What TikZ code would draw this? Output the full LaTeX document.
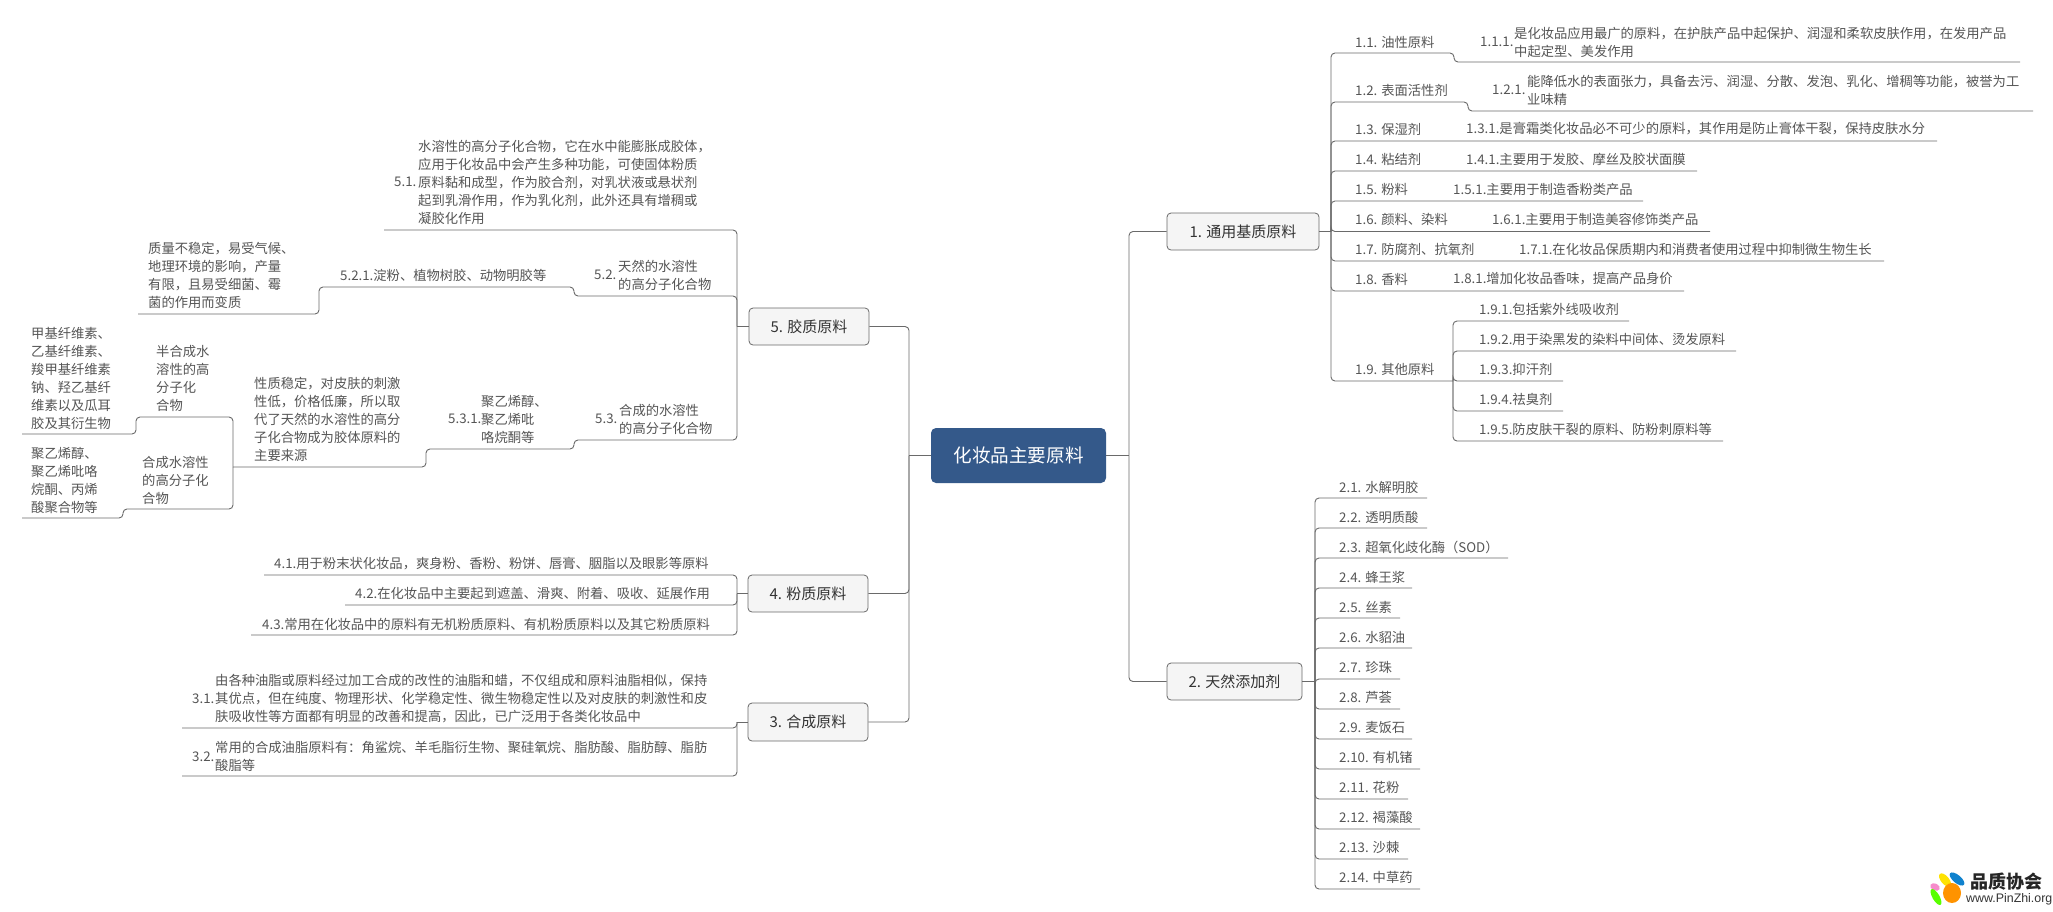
\documentclass[tikz,border=0pt]{standalone}
\usepackage{fontspec}
\setmainfont{Noto Sans CJK SC}
\newfontfamily\logofont{Liberation Sans}
\definecolor{txt}{HTML}{555555}
\definecolor{lnc}{HTML}{6A6A6A}
\definecolor{boxf}{HTML}{F5F5F5}
\definecolor{rootc}{HTML}{34598A}
\tikzset{
  conn/.style={draw=lnc,line width=0.9pt,rounded corners=4pt},
  stub/.style={draw=lnc,line width=0.9pt},
  lab/.style={inner sep=0pt,anchor=west,align=left,text=txt,font=\fontsize{13.3}{18}\selectfont},
  topbox/.style={draw=lnc,line width=0.8pt,fill=boxf,rounded corners=4pt,inner sep=0pt,text=black!80,font=\fontsize{15}{18}\selectfont},
  rootbox/.style={fill=rootc,rounded corners=5pt,inner sep=0pt,text=white,font=\fontsize{18.6}{22}\selectfont}
}
\begin{document}
\begin{tikzpicture}[x=1pt,y=-1pt]
\useasboundingbox[fill=white] (0,0) rectangle (2053,911);
% boxes
\node[rootbox,minimum width=175pt,minimum height=55pt] (root) at (1018.5,455.5) {化妆品主要原料};
\node[topbox,minimum width=152pt,minimum height=37pt] (b1) at (1243,231.5) {1. 通用基质原料};
\node[topbox,minimum width=135pt,minimum height=37pt] (b2) at (1234.5,681.5) {2. 天然添加剂};
\node[topbox,minimum width=120pt,minimum height=37pt] (b5) at (809,326.5) {5. 胶质原料};
\node[topbox,minimum width=120pt,minimum height=37pt] (b4) at (808,593.5) {4. 粉质原料};
\node[topbox,minimum width=120pt,minimum height=38pt] (b3) at (808,722) {3. 合成原料};
% junction points
\coordinate (jr) at (1129,455.5);
\coordinate (jl) at (909,455.5);
\coordinate (s1) at (1331,231.5);
\coordinate (s19) at (1453,381);
\coordinate (s2) at (1315,681.5);
\coordinate (s5) at (737,326.5);
\coordinate (s4) at (737,593.5);
\coordinate (s3) at (737,722);
\coordinate (s53) at (233,467);
% top-level connectors
\draw[stub] (root.east) -- (jr);
\draw[stub] (root.west) -- (jl);
\draw[conn] (jr) |- (b1.west);
\draw[conn] (jr) |- (b2.west);
\draw[conn] (jl) |- (b5.east);
\draw[conn] (jl) |- (b4.east);
\draw[conn] (jl) |- (b3.east);
\draw[stub] (b1.east) -- (s1);
\draw[stub] (b2.east) -- (s2);
\draw[stub] (b5.west) -- (s5);
\draw[stub] (b4.west) -- (s4);
\draw[stub] (b3.west) -- (s3);
% section 1 underline ends
\foreach \n/\x/\y in {c13/1937/141,c14/1697/171,c15/1643/201,c16/1710/231.5,c17/1884/261,c18/1684/291,c19/1453/381,
  d1/1629/321,d2/1736/351,d3/1563/381,d4/1563/411,d5/1723/441,
  e1/1427/498,e2/1427/528,e3/1508/558,e4/1412/588,e5/1400/618,e6/1412/648,e7/1400/679,e8/1400/709,e9/1412/739,e10/1420/769,e11/1408/799,e12/1420/829,e13/1408/859,e14/1420/889,
  f1/264/575,f2/345/605,f3/251/635,g1/182/728,g2/182/776,h1/384/230}
  {\coordinate (\n) at (\x,\y);}
\draw[conn] (s1) |- (1454,53) -- (1454,62) -- (2020,62);
\draw[conn] (s1) |- (1468,102) -- (1468,111) -- (2033,111);
\foreach \n in {c13,c14,c15,c16,c17,c18,c19} {\draw[conn] (s1) |- (\n);}
\foreach \n in {d1,d2,d3,d4,d5} {\draw[conn] (s19) |- (\n);}
\draw[stub] (c19) -- (s19);
\foreach \n in {e1,e2,e3,e4,e5,e6,e7,e8,e9,e10,e11,e12,e13,e14} {\draw[conn] (s2) |- (\n);}
\foreach \n in {f1,f2,f3} {\draw[conn] (s4) |- (\n);}
\foreach \n in {g1,g2} {\draw[conn] (s3) |- (\n);}
\draw[conn] (s5) |- (h1);
\draw[conn] (s5) |- (574,296) -- (574,287) -- (319,287) -- (319,314) -- (138,314);
\draw[conn] (s5) |- (574,440) -- (574,449) -- (426,449) -- (426,467) -- (s53);
\draw[conn] (s53) |- (136,417) -- (136,434) -- (22,434);
\draw[conn] (s53) |- (123,509) -- (123,518) -- (22,518);
% section 1 text
\node[lab] (t11) at (1355,42) {1.1. 油性原料};
\node[lab] (t111) at (1480,42) {1.1.1.};
\node[lab] (t111b) at (1514,42.5) {是化妆品应用最广的原料，在护肤产品中起保护、润湿和柔软皮肤作用，在发用产品\\中起定型、美发作用};
\node[lab] (t12) at (1355,90) {1.2. 表面活性剂};
\node[lab] (t121) at (1492,90) {1.2.1.};
\node[lab] (t121b) at (1527,90.5) {能降低水的表面张力，具备去污、润湿、分散、发泡、乳化、增稠等功能，被誉为工\\业味精};
\node[lab] (t13) at (1355,129) {1.3. 保湿剂};
\node[lab] (t131) at (1466,129) {1.3.1.是膏霜类化妆品必不可少的原料，其作用是防止膏体干裂，保持皮肤水分};
\node[lab] (t14) at (1355,159) {1.4. 粘结剂};
\node[lab] (t141) at (1466,159) {1.4.1.主要用于发胶、摩丝及胶状面膜};
\node[lab] (t15) at (1355,189) {1.5. 粉料};
\node[lab] (t151) at (1453,189) {1.5.1.主要用于制造香粉类产品};
\node[lab] (t16) at (1355,219) {1.6. 颜料、染料};
\node[lab] (t161) at (1492,219) {1.6.1.主要用于制造美容修饰类产品};
\node[lab] (t17) at (1355,249) {1.7. 防腐剂、抗氧剂};
\node[lab] (t171) at (1519,249) {1.7.1.在化妆品保质期内和消费者使用过程中抑制微生物生长};
\node[lab] (t18) at (1355,279) {1.8. 香料};
\node[lab] (t181) at (1453,279) {1.8.1.增加化妆品香味，提高产品身价};
\node[lab] (t19) at (1355,369) {1.9. 其他原料};
\node[lab] (t191) at (1479,309) {1.9.1.包括紫外线吸收剂};
\node[lab] (t192) at (1479,339) {1.9.2.用于染黑发的染料中间体、烫发原料};
\node[lab] (t193) at (1479,369) {1.9.3.抑汗剂};
\node[lab] (t194) at (1479,399) {1.9.4.祛臭剂};
\node[lab] (t195) at (1479,429) {1.9.5.防皮肤干裂的原料、防粉刺原料等};
% section 2 text
\node[lab] (t21) at (1339,487) {2.1. 水解明胶};
\node[lab] (t22) at (1339,517) {2.2. 透明质酸};
\node[lab] (t23) at (1339,547) {2.3. 超氧化歧化酶（SOD）};
\node[lab] (t24) at (1339,577) {2.4. 蜂王浆};
\node[lab] (t25) at (1339,607) {2.5. 丝素};
\node[lab] (t26) at (1339,637) {2.6. 水貂油};
\node[lab] (t27) at (1339,667) {2.7. 珍珠};
\node[lab] (t28) at (1339,697) {2.8. 芦荟};
\node[lab] (t29) at (1339,727) {2.9. 麦饭石};
\node[lab] (t210) at (1339,757) {2.10. 有机锗};
\node[lab] (t211) at (1339,787) {2.11. 花粉};
\node[lab] (t212) at (1339,817) {2.12. 褐藻酸};
\node[lab] (t213) at (1339,847) {2.13. 沙棘};
\node[lab] (t214) at (1339,877) {2.14. 中草药};
% section 4
\node[lab] (t41) at (274,564) {4.1.用于粉末状化妆品，爽身粉、香粉、粉饼、唇膏、胭脂以及眼影等原料};
\node[lab] (t42) at (355,593) {4.2.在化妆品中主要起到遮盖、滑爽、附着、吸收、延展作用};
\node[lab] (t43) at (262,624) {4.3.常用在化妆品中的原料有无机粉质原料、有机粉质原料以及其它粉质原料};
% section 3
\node[lab] (t31) at (192,699) {3.1.};
\node[lab] (t31b) at (215,699) {由各种油脂或原料经过加工合成的改性的油脂和蜡，不仅组成和原料油脂相似，保持\\其优点，但在纯度、物理形状、化学稳定性、微生物稳定性以及对皮肤的刺激性和皮\\肤吸收性等方面都有明显的改善和提高，因此，已广泛用于各类化妆品中};
\node[lab] (t32) at (192,757) {3.2.};
\node[lab] (t32b) at (215,756) {常用的合成油脂原料有：角鲨烷、羊毛脂衍生物、聚硅氧烷、脂肪酸、脂肪醇、脂肪\\酸脂等};
% section 5
\node[lab] (t51) at (394,182) {5.1.};
\node[lab] (t51b) at (418,182) {水溶性的高分子化合物，它在水中能膨胀成胶体，\\应用于化妆品中会产生多种功能，可使固体粉质\\原料黏和成型，作为胶合剂，对乳状液或悬状剂\\起到乳滑作用，作为乳化剂，此外还具有增稠或\\凝胶化作用};
\node[lab] (t52) at (594,275) {5.2.};
\node[lab] (t52b) at (618,275) {天然的水溶性\\的高分子化合物};
\node[lab] (t521) at (340,275) {5.2.1.淀粉、植物树胶、动物明胶等};
\node[lab] (t521b) at (148,275) {质量不稳定，易受气候、\\地理环境的影响，产量\\有限，且易受细菌、霉\\菌的作用而变质};
\node[lab] (t53) at (595,419) {5.3.};
\node[lab] (t53b) at (619,419) {合成的水溶性\\的高分子化合物};
\node[lab] (t531) at (448,419) {5.3.1.};
\node[lab] (t531b) at (481,419) {聚乙烯醇、\\聚乙烯吡\\咯烷酮等};
\node[lab] (t531c) at (254,419) {性质稳定，对皮肤的刺激\\性低，价格低廉，所以取\\代了天然的水溶性的高分\\子化合物成为胶体原料的\\主要来源};
\node[lab] (t5a) at (156,378) {半合成水\\溶性的高\\分子化\\合物};
\node[lab] (t5ab) at (31,378) {甲基纤维素、\\乙基纤维素、\\羧甲基纤维素\\钠、羟乙基纤\\维素以及瓜耳\\胶及其衍生物};
\node[lab] (t5c) at (142,480) {合成水溶性\\的高分子化\\合物};
\node[lab] (t5cb) at (31,480) {聚乙烯醇、\\聚乙烯吡咯\\烷酮、丙烯\\酸聚合物等};
% watermark
\fill[magenta!45,rotate around={-25:(1935,887)}] (1935,887) ellipse [x radius=5,y radius=3.5];
\fill[green!65!yellow,rotate around={-60:(1936,897)}] (1936,897) ellipse [x radius=9,y radius=3.5];
\fill[yellow!85!orange,rotate around={-50:(1945,880)}] (1945,880) ellipse [x radius=8,y radius=4];
\fill[cyan!65!blue,rotate around={-40:(1957,879)}] (1957,879) ellipse [x radius=9,y radius=4];
\fill[orange!85!yellow] (1952,893) ellipse [x radius=9,y radius=10];
\node[inner sep=0pt,anchor=west,font=\fontsize{18}{20}\selectfont\bfseries,text=black!85] (wm1) at (1970,882) {品质协会};
\node[inner sep=0pt,anchor=west,font=\logofont\fontsize{12.4}{14}\selectfont,text=black!80] (wm2) at (1966,899) {www.PinZhi.org};
\end{tikzpicture}
\end{document}
